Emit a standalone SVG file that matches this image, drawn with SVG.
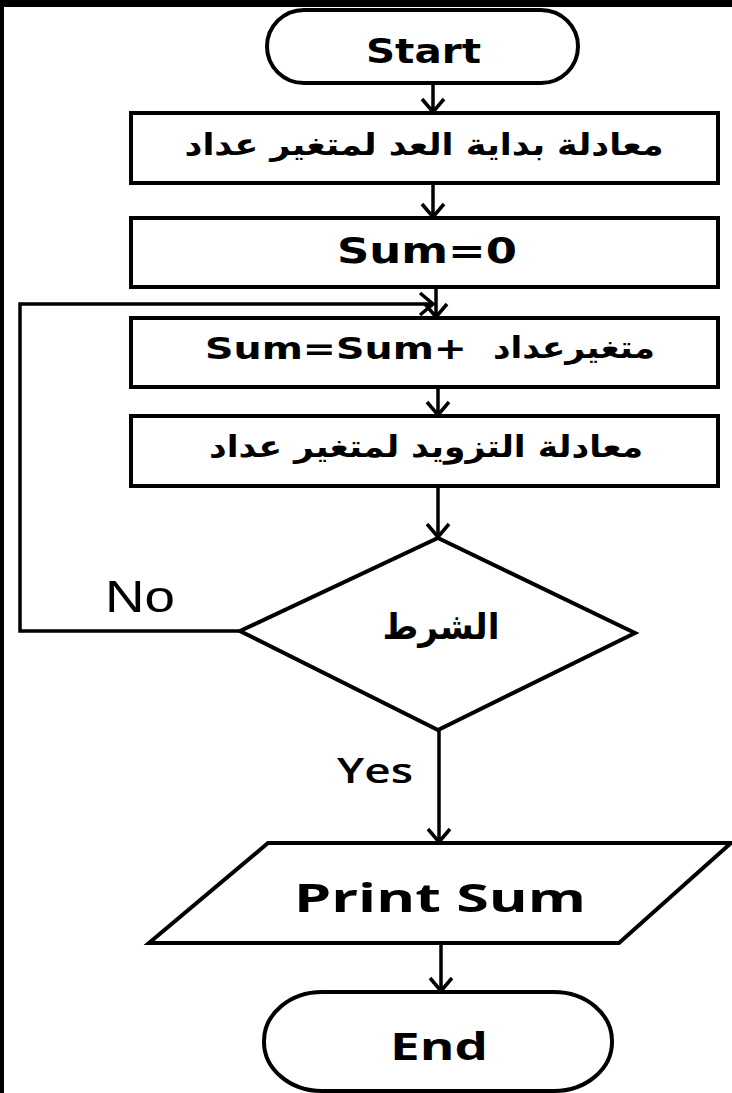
<svg xmlns="http://www.w3.org/2000/svg" width="732" height="1093" viewBox="0 0 732 1093">
<style>
.shape{fill:#fff;stroke:#000;stroke-width:4;stroke-linejoin:miter}
.conn{fill:none;stroke:#000;stroke-width:3.5}
.lat{font-family:"DejaVu Sans",Verdana,sans-serif;font-weight:bold;fill:#000}
.ar{font-family:"DejaVu Sans","Noto Sans",sans-serif;font-weight:bold;fill:#000}
.cal{font-family:"Open Sans","Liberation Sans",sans-serif;fill:#000}
</style>
<defs>
<marker id="arr" markerUnits="userSpaceOnUse" markerWidth="30" markerHeight="30" viewBox="-16 -15 20 30" refX="0" refY="0" orient="auto">
<path d="M-13,-11 L0,0 L-13,11" fill="none" stroke="#000" stroke-width="3.5"/>
</marker>
</defs>
<rect x="0" y="0" width="732" height="1093" fill="#000"/>
<rect x="4" y="7" width="728" height="1086" fill="#fff"/>
<g id="connectors">
<line class="conn" x1="433" y1="83" x2="433" y2="112" marker-end="url(#arr)"/>
<line class="conn" x1="433" y1="183" x2="433" y2="217" marker-end="url(#arr)"/>
<line class="conn" x1="436" y1="287" x2="436" y2="317" marker-end="url(#arr)"/>
<line class="conn" x1="438" y1="387" x2="438" y2="415" marker-end="url(#arr)"/>
<line class="conn" x1="438" y1="486" x2="438" y2="537" marker-end="url(#arr)"/>
<polyline class="conn" points="240,631 20,631 20,304 433,304" marker-end="url(#arr)"/>
<line class="conn" x1="439" y1="730" x2="439" y2="842" marker-end="url(#arr)"/>
<line class="conn" x1="441" y1="943" x2="441" y2="991" marker-end="url(#arr)"/>
<text class="cal" x="105" y="612" font-size="44" textLength="70" lengthAdjust="spacingAndGlyphs" style="font-family:'Liberation Sans',Arial,sans-serif">No</text>
<text class="cal" x="337" y="783" font-size="34" font-weight="600" textLength="76" lengthAdjust="spacingAndGlyphs">Yes</text>
</g>
<g id="start">
<rect class="shape" x="267" y="10" width="311" height="73" rx="37" ry="37"/>
<text class="lat" x="366" y="63" font-size="33" textLength="115" lengthAdjust="spacingAndGlyphs">Start</text>
</g>
<g id="init">
<rect class="shape" x="131" y="113" width="587" height="70"/>
<text class="ar" x="424" y="155" font-size="30" text-anchor="middle" direction="rtl" textLength="479" lengthAdjust="spacingAndGlyphs">معادلة بداية العد لمتغير عداد</text>
</g>
<g id="sum0">
<rect class="shape" x="131" y="218" width="587" height="69"/>
<text class="lat" x="337" y="263" font-size="35" textLength="180" lengthAdjust="spacingAndGlyphs">Sum=0</text>
</g>
<g id="accumulate">
<rect class="shape" x="131" y="318" width="587" height="69"/>
<text class="lat" x="205" y="359" font-size="31" textLength="262" lengthAdjust="spacingAndGlyphs">Sum=Sum+</text>
<text class="ar" x="574" y="358" font-size="30" text-anchor="middle" direction="rtl" textLength="162" lengthAdjust="spacingAndGlyphs">متغيرعداد</text>
</g>
<g id="increment">
<rect class="shape" x="131" y="416" width="587" height="70"/>
<text class="ar" x="426" y="457" font-size="30" text-anchor="middle" direction="rtl" textLength="434" lengthAdjust="spacingAndGlyphs">معادلة التزويد لمتغير عداد</text>
</g>
<g id="condition">
<polygon class="shape" points="438,538 635,633 438,730 240,631"/>
<text class="ar" x="441" y="639" font-size="36" text-anchor="middle" direction="rtl" textLength="117" lengthAdjust="spacingAndGlyphs">الشرط</text>
</g>
<g id="print">
<polygon class="shape" points="268,843 731,843 619,943 149,943"/>
<text class="cal" x="294" y="912" font-size="40" font-weight="bold" textLength="292" lengthAdjust="spacingAndGlyphs">Print  Sum</text>
</g>
<g id="end">
<rect class="shape" x="264" y="992" width="348" height="99" rx="58" ry="49"/>
<text class="cal" x="390" y="1060" font-size="38" font-weight="bold" textLength="98" lengthAdjust="spacingAndGlyphs">End</text>
</g>
</svg>
